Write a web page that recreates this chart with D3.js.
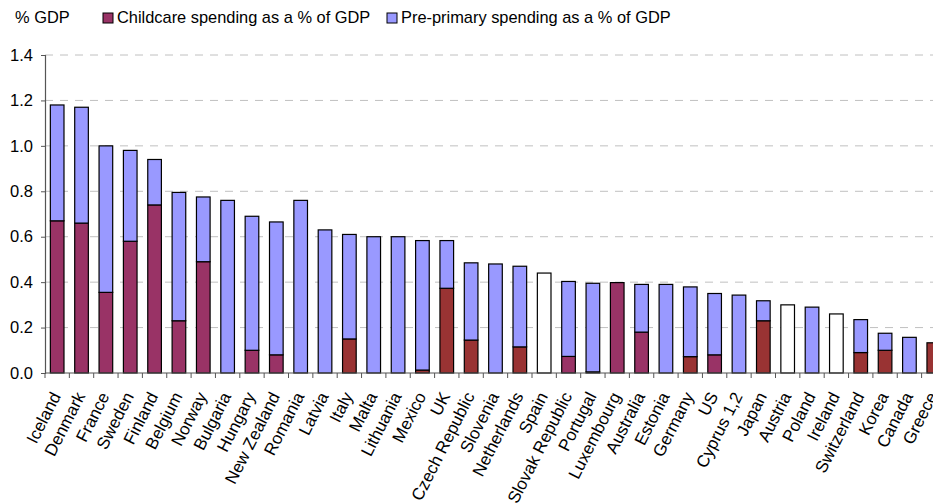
<!DOCTYPE html>
<html>
<head>
<meta charset="utf-8">
<script src="https://cdn.jsdelivr.net/npm/d3@7"></script>
<style>
  html, body { margin: 0; padding: 0; background: #fff; }
  svg { display: block; overflow: hidden; }
  text { font-family: "Liberation Sans", Arial, sans-serif; fill: #000; }
</style>
</head>
<body>
<svg id="chart" width="933" height="504"></svg>
<script>
// Public spending on early childhood services, % of GDP
const countries = ["Iceland","Denmark","France","Sweden","Finland","Belgium","Norway","Bulgaria","Hungary","New Zealand",
  "Romania","Latvia","Italy","Malta","Lithuania","Mexico","UK","Czech Republic","Slovenia","Netherlands",
  "Spain","Slovak Republic","Portugal","Luxembourg","Australia","Estonia","Germany","US","Cyprus 1,2","Japan",
  "Austria","Poland","Ireland","Switzerland","Korea","Canada","Greece"];

// Childcare spending (bottom segment)
const childcare = [0.67,0.66,0.355,0.58,0.74,0.23,0.49,0,0.10,0.08,
  0,0,0.15,0,0,0.013,0.373,0.145,0,0.115,
  0,0.073,0.005,0.398,0.18,0,0.072,0.08,0,0.23,
  0,0,0,0.09,0.10,0,0.133];

// Pre-primary spending (top segment)
const prePrimary = [0.51,0.51,0.645,0.40,0.20,0.565,0.285,0.76,0.59,0.585,
  0.76,0.63,0.46,0.60,0.60,0.57,0.21,0.34,0.48,0.355,
  0,0.33,0.39,0,0.21,0.39,0.307,0.27,0.343,0.088,
  0,0.29,0,0.145,0.075,0.157,0];

// Countries reporting only a combined total (no split available)
const combinedOnly = {"Spain": 0.44, "Austria": 0.30, "Ireland": 0.26};

// Countries whose childcare figure is drawn in the darker red shade
const altShade = ["Italy","Mexico","UK","Czech Republic","Netherlands","Germany","Japan","Switzerland","Korea","Greece"];

const yTicks = [0, 0.2, 0.4, 0.6, 0.8, 1.0, 1.2, 1.4];

const legendItems = [
  {label: "Childcare spending as a % of GDP", color: "#993366"},
  {label: "Pre-primary spending as a % of GDP", color: "#9999FF"}
];

const svg = d3.select("#chart");

const x0 = 45, step = 24.35;
const x = d3.scaleBand()
  .domain(countries)
  .range([x0, x0 + step * countries.length])
  .paddingInner(0.44)
  .paddingOuter(0.22);

const y = d3.scaleLinear().domain([0, 1.4]).range([373, 55]);

// Horizontal dashed gridlines
svg.append("g")
  .selectAll("line")
  .data(yTicks.filter(d => d > 0))
  .join("line")
  .attr("x1", x0).attr("x2", 933)
  .attr("y1", d => y(d)).attr("y2", d => y(d))
  .attr("stroke", "#c0c0c0")
  .attr("stroke-width", 1)
  .attr("stroke-dasharray", "8,7");

// Bars
const rows = countries.map((c, i) => ({
  country: c,
  childcare: childcare[i],
  prePrimary: prePrimary[i],
  combined: combinedOnly[c]
}));

const barG = svg.append("g");
rows.forEach(r => {
  const bx = x(r.country), bw = x.bandwidth();
  if (r.combined !== undefined) {
    barG.append("rect")
      .attr("x", bx).attr("width", bw)
      .attr("y", y(r.combined)).attr("height", y(0) - y(r.combined))
      .attr("fill", "#fff").attr("stroke", "#000").attr("stroke-width", 1.2);
    return;
  }
  if (r.childcare > 0) {
    barG.append("rect")
      .attr("x", bx).attr("width", bw)
      .attr("y", y(r.childcare)).attr("height", y(0) - y(r.childcare))
      .attr("fill", altShade.includes(r.country) ? "#993333" : "#993366")
      .attr("stroke", "#000").attr("stroke-width", 1.2);
  }
  if (r.prePrimary > 0) {
    barG.append("rect")
      .attr("x", bx).attr("width", bw)
      .attr("y", y(r.childcare + r.prePrimary))
      .attr("height", y(r.childcare) - y(r.childcare + r.prePrimary))
      .attr("fill", "#9999FF")
      .attr("stroke", "#000").attr("stroke-width", 1.2);
  }
});

// Y axis
const yAxis = svg.append("g")
  .attr("transform", `translate(${x0},0)`)
  .call(d3.axisLeft(y).tickValues(yTicks).tickFormat(d3.format(".1f")).tickSize(4).tickPadding(8));
yAxis.select(".domain").attr("stroke", "#555").attr("stroke-width", 1.2);
yAxis.selectAll(".tick line").attr("stroke", "#555");
yAxis.selectAll(".tick text").attr("font-size", 16.5).attr("font-family", "Liberation Sans, Arial, sans-serif");

// X axis line with ticks between categories
const xAxisG = svg.append("g");
xAxisG.append("line")
  .attr("x1", x0).attr("x2", 933)
  .attr("y1", y(0)).attr("y2", y(0))
  .attr("stroke", "#555").attr("stroke-width", 1.2);
xAxisG.selectAll("line.tk")
  .data(countries)
  .join("line")
  .attr("class", "tk")
  .attr("x1", d => x(d) - x.step() * x.paddingInner() / 2)
  .attr("x2", d => x(d) - x.step() * x.paddingInner() / 2)
  .attr("y1", y(0)).attr("y2", y(0) + 5)
  .attr("stroke", "#555");

// Category labels
xAxisG.selectAll("text")
  .data(countries)
  .join("text")
  .attr("transform", d => `translate(${x(d) + x.bandwidth() / 2 + 4},${y(0) + 23}) rotate(-63)`)
  .attr("text-anchor", "end")
  .attr("font-size", 17)
  .text(d => d);

// Unit label and legend
svg.append("text").attr("x", 15).attr("y", 23).attr("font-size", 16.4).text("% GDP");

const legendX = [103, 387];
legendItems.forEach((item, i) => {
  const g = svg.append("g").attr("transform", `translate(${legendX[i]},13)`);
  g.append("rect").attr("width", 10).attr("height", 10)
    .attr("fill", item.color).attr("stroke", "#000").attr("stroke-width", 1);
  g.append("text").attr("x", 14).attr("y", 10).attr("font-size", 16.4).text(item.label);
});
</script>
</body>
</html>
